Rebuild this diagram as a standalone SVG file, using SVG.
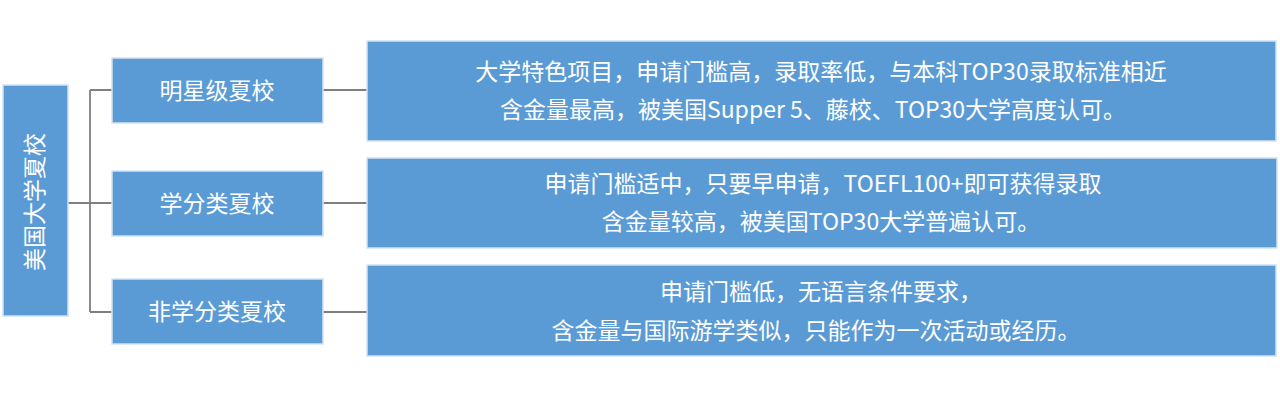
<svg xmlns="http://www.w3.org/2000/svg" width="1280" height="402" viewBox="0 0 1280 402">
<style>
.box{fill:#5B9BD5;stroke:#D2E2F2;stroke-width:1.5}
.t{font-family:"Noto Sans CJK SC","Microsoft YaHei",sans-serif;font-size:23px;fill:#FFFFFF;text-anchor:middle}
.c{fill:none;stroke:#7F7F7F;stroke-width:1.8}
</style>
<rect width="1280" height="402" fill="#FFFFFF"/>
<g id="connectors">
<path class="c" d="M68,203 H90 M90,90 V312 M90,90 H112 M90,203 H112 M90,312 H112"/>
<path class="c" d="M323,90 H367 M323,203 H367 M323,312 H367"/>
</g>
<g id="root">
<rect class="box" x="3" y="85" width="65" height="231"/>
<text class="t" transform="translate(35,202) rotate(-90)" x="0" y="8">美国大学夏校</text>
</g>
<g id="star">
<rect class="box" x="112" y="58" width="211" height="65"/>
<text class="t" x="217" y="99">明星级夏校</text>
</g>
<g id="credit">
<rect class="box" x="112" y="171" width="211" height="65"/>
<text class="t" x="217" y="212">学分类夏校</text>
</g>
<g id="noncredit">
<rect class="box" x="112" y="279" width="211" height="65"/>
<text class="t" x="217" y="320">非学分类夏校</text>
</g>
<g id="star-desc">
<rect class="box" x="367" y="41" width="909" height="100"/>
<text class="t" x="821" y="80">大学特色项目，申请门槛高，录取率低，与本科TOP30录取标准相近</text>
<text class="t" x="813" y="118">含金量最高，被美国Supper 5、藤校、TOP30大学高度认可。</text>
</g>
<g id="credit-desc">
<rect class="box" x="367" y="158" width="910" height="90"/>
<text class="t" x="823" y="192">申请门槛适中，只要早申请，TOEFL100+即可获得录取</text>
<text class="t" x="821" y="230">含金量较高，被美国TOP30大学普遍认可。</text>
</g>
<g id="noncredit-desc">
<rect class="box" x="367" y="265" width="909" height="91"/>
<text class="t" x="821" y="300">申请门槛低，无语言条件要求，</text>
<text class="t" x="816" y="339">含金量与国际游学类似，只能作为一次活动或经历。</text>
</g>
</svg>
